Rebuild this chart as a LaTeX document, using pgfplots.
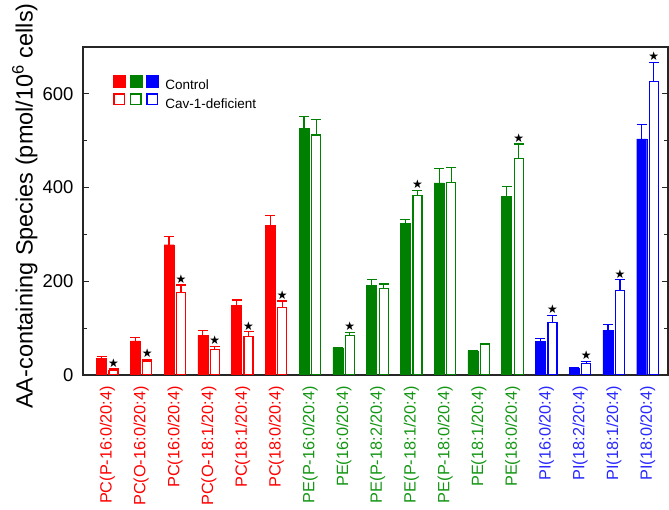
\documentclass[border=0pt]{standalone}
\usepackage{pgfplots}
\pgfplotsset{compat=1.18}
\usepackage{fontspec}
\setmainfont{Liberation Sans}
\newfontfamily\symfont{DejaVu Sans}
\definecolor{cred}{RGB}{255,0,0}
\definecolor{cgreen}{RGB}{0,128,0}
\definecolor{cblue}{RGB}{0,0,255}
\definecolor{lgreen}{RGB}{20,150,20}
\definecolor{lblue}{RGB}{40,40,255}
\pgfplotsset{
  ctrl/.style={ybar, bar width=10pt, bar shift=0pt, fill=#1, draw=#1, line width=0.4pt,
    error bars/.cd, y dir=plus, y explicit,
    error bar style={#1, line width=1.2pt},
    error mark options={rotate=90, #1, mark size=5pt, line width=1.2pt}},
  cav/.style={ybar, bar width=9pt, bar shift=0pt, fill=white, draw=#1, line width=1.2pt,
    error bars/.cd, y dir=plus, y explicit,
    error bar style={#1, line width=1.2pt},
    error mark options={rotate=90, #1, mark size=5pt, line width=1.2pt}},
}
\begin{document}
\begin{tikzpicture}
\begin{axis}[
  at={(0,0)}, anchor=south west,
  scale only axis, width=585pt, height=328pt,
  xmin=-0.726, xmax=16.6, ymin=0, ymax=700,
  axis line style={line width=1.3pt, black!85},
  xtick={0,...,16},
  xticklabels={
    {\textcolor{cred}{PC(P-16:0/20:4)}},
    {\textcolor{cred}{PC(O-16:0/20:4)}},
    {\textcolor{cred}{PC(16:0/20:4)}},
    {\textcolor{cred}{PC(O-18:1/20:4)}},
    {\textcolor{cred}{PC(18:1/20:4)}},
    {\textcolor{cred}{PC(18:0/20:4)}},
    {\textcolor{lgreen}{PE(P-16:0/20:4)}},
    {\textcolor{lgreen}{PE(16:0/20:4)}},
    {\textcolor{lgreen}{PE(P-18:2/20:4)}},
    {\textcolor{lgreen}{PE(P-18:1/20:4)}},
    {\textcolor{lgreen}{PE(P-18:0/20:4)}},
    {\textcolor{lgreen}{PE(18:1/20:4)}},
    {\textcolor{lgreen}{PE(18:0/20:4)}},
    {\textcolor{lblue}{PI(16:0/20:4)}},
    {\textcolor{lblue}{PI(18:2/20:4)}},
    {\textcolor{lblue}{PI(18:1/20:4)}},
    {\textcolor{lblue}{PI(18:0/20:4)}}},
  x tick style={draw=none},
  xticklabel style={rotate=90, anchor=east, font=\fontsize{16.3}{18}\selectfont, inner sep=0pt, xshift=-11pt},
  ytick={0,200,400,600}, minor ytick={100,300,500},
  tick align=inside,
  y tick style={line width=1.2pt, black!85},
  major tick length=6pt, minor tick length=4pt,
  yticklabel style={font=\fontsize{18.5}{20}\selectfont, xshift=-6pt},
  /pgf/number format/assume math mode=true,
  ylabel={AA-containing Species (pmol/10\textsuperscript{6} cells)},
  ylabel style={font=\fontsize{23.5}{25}\selectfont, at={(axis description cs:-0.074,0.515)}, anchor=south, inner sep=2pt},
  legend style={at={(axis description cs:0.051,0.915)}, anchor=north west, draw=none, fill=none,
    font=\fontsize{13.5}{15}\selectfont, row sep=0pt, inner sep=0pt},
  legend cell align=left,
]
\addlegendimage{legend image code/.code={
  \fill[cred] (0pt,-1.5pt) rectangle (12pt,10.5pt);
  \fill[cgreen] (16.5pt,-1.5pt) rectangle (28.5pt,10.5pt);
  \fill[cblue] (33pt,-1.5pt) rectangle (45pt,10.5pt);
  \path (50pt,0pt);}}
\addlegendentry{Control}
\addlegendimage{legend image code/.code={
  \draw[cred, line width=1.3pt] (0.65pt,-0.85pt) rectangle (11.35pt,9.85pt);
  \draw[cgreen, line width=1.3pt] (17.15pt,-0.85pt) rectangle (27.85pt,9.85pt);
  \draw[cblue, line width=1.3pt] (33.65pt,-0.85pt) rectangle (44.35pt,9.85pt);
  \path (50pt,0pt);}}
\addlegendentry{Cav-1-deficient}

% Control (bars at category - 0.178)
\addplot[ctrl=cred] coordinates {(-0.178,36) +- (0,3) (0.822,73) +- (0,7) (1.822,278) +- (0,17) (2.822,85) +- (0,10) (3.822,149) +- (0,11) (4.822,320) +- (0,21)};
\addplot[ctrl=cgreen] coordinates {(5.822,527) +- (0,25) (6.822,57) +- (0,2) (7.822,191) +- (0,13) (8.822,324) +- (0,8) (9.822,410) +- (0,30) (10.822,51) +- (0,2) (11.822,382) +- (0,21)};
\addplot[ctrl=cblue] coordinates {(12.822,72) +- (0,6) (13.822,14) +- (0,2) (14.822,96) +- (0,12) (15.822,504) +- (0,31)};
% Cav-1-deficient (bars at category + 0.178)
\addplot[cav=cred] coordinates {(0.178,10) +- (0,3) (1.178,30) +- (0,3) (2.178,176) +- (0,16) (3.178,54) +- (0,7) (4.178,82) +- (0,10) (5.178,144) +- (0,14)};
\addplot[cav=cgreen] coordinates {(6.178,512) +- (0,33) (7.178,85) +- (0,6) (8.178,184) +- (0,10) (9.178,383) +- (0,11) (10.178,410) +- (0,33) (11.178,66) +- (0,2) (12.178,462) +- (0,31)};
\addplot[cav=cblue] coordinates {(13.178,112) +- (0,15) (14.178,25) +- (0,4) (15.178,180) +- (0,23) (16.178,626) +- (0,41)};
% significance stars
\addplot[draw=none, mark=none, nodes near coords={\symfont\fontsize{12}{12}\selectfont ★},
  every node near coord/.append style={anchor=south, black, inner sep=1.5pt}]
  coordinates {(0.178,13) (1.178,33) (2.178,192) (3.178,61) (4.178,92) (5.178,158)
   (7.178,91) (9.178,394) (12.178,493) (13.178,127) (14.178,29) (15.178,203) (16.178,667)};
\end{axis}
\pgfresetboundingbox
\path[use as bounding box] (-83pt,-135pt) rectangle (586pt,375pt);
\end{tikzpicture}
\end{document}
